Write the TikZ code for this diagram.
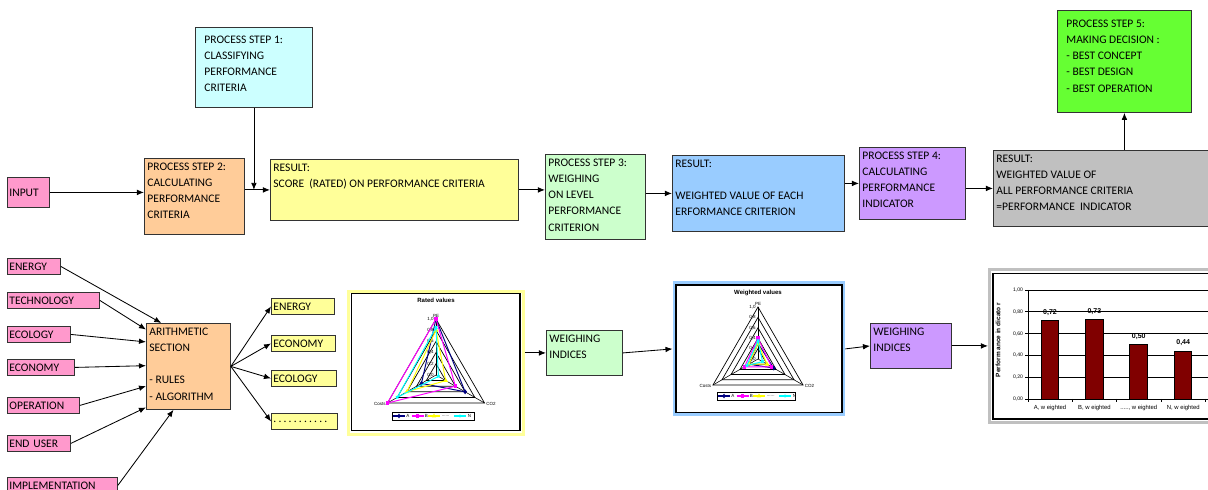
\documentclass[tikz,border=0pt]{standalone}
\usepackage{fontspec}
\setmainfont{Carlito}
\newfontfamily\chartfont{Liberation Sans}
\usetikzlibrary{arrows.meta,positioning,plotmarks}

\definecolor{inputpink}{HTML}{FF99CC}
\definecolor{steporange}{HTML}{FFCC99}
\definecolor{stepcyan}{HTML}{CCFFFF}
\definecolor{resultyellow}{HTML}{FFFF99}
\definecolor{steplgreen}{HTML}{CCFFCC}
\definecolor{resultblue}{HTML}{99CCFF}
\definecolor{steppurple}{HTML}{CC99FF}
\definecolor{resultgray}{HTML}{C0C0C0}
\definecolor{decisiongreen}{HTML}{66FF33}
\definecolor{barred}{HTML}{800000}
\definecolor{serA}{HTML}{000080}
\definecolor{serB}{HTML}{FF00FF}
\definecolor{serC}{HTML}{FFFF00}
\definecolor{serN}{HTML}{00FFFF}

\newdimen\pxu
\pxu=0.025cm
\newcommand{\boxfont}{\fontsize{8.2}{11.4}\selectfont}
\newcommand{\boxtext}[3]{\parbox[c][#2\pxu][t]{#1\pxu}{\raggedright #3}}
\newcommand{\legdots}{......}
\newcommand{\catdots}{.....}
\newcommand{\dt}{.\kern1.56pt}
\newcommand{\dotrow}{\dt\dt\dt\dt\dt\dt\dt\dt\dt\dt.}
\newcommand{\radarlegend}[2]{%
  \draw[line width=0.6pt, fill=white] (0,0) rectangle (#2,8);
  \foreach \c/\m/\x in {serA/diamond*/1, serB/square*/19.5, serC/triangle*/36, serN/x/62}
    \draw[\c, line width=0.8pt, mark=\m, mark size=1pt, mark indices={2}] plot coordinates {(\x,4) ({\x+6},4) ({\x+12},4)};
  \foreach \x/\t/\n in {13.5/A/a, 32/B/b, 49/\legdots/c, 75/N/n}
    \node[chartlbl, anchor=west] (#1\n) at (\x,4) {\t};
}

\begin{document}
\begin{tikzpicture}[x=0.025cm, y=-0.025cm,
  box/.style={draw=black!80, line width=0.6pt, anchor=north west, inner xsep=3\pxu, inner ysep=5\pxu, font=\boxfont},
  tag/.style={draw=black!80, line width=0.6pt, anchor=north west, inner xsep=2\pxu, inner ysep=0pt, minimum height=16\pxu, align=left, font=\boxfont},
  arr/.style={-{Latex[length=5pt,width=4pt]}, line width=0.6pt},
  frame/.style={anchor=north west, line width=2pt, inner sep=0pt, fill=white},
  chartlbl/.style={font=\chartfont\fontsize{3.2}{3.8}\selectfont, inner sep=0.5pt},
  charttitle/.style={font=\chartfont\bfseries\fontsize{4.3}{5}\selectfont, inner sep=0pt}]

\useasboundingbox (0,0) rectangle (1208,490);

% process chain
\node[tag, fill=inputpink, minimum height=30\pxu, text width=38\pxu] (input) at (7,177) {INPUT};
\node[box, fill=steporange] (ps2) at (144,158) {\boxtext{94}{66}{PROCESS STEP 2:\\CALCULATING\\PERFORMANCE\\CRITERIA}};
\node[box, fill=stepcyan, inner xsep=9\pxu, inner ysep=9\pxu] (ps1) at (195,27) {\boxtext{99}{62}{PROCESS STEP 1:\\CLASSIFYING\\PERFORMANCE\\CRITERIA}};
\node[box, fill=resultyellow] (res1) at (270,159) {\boxtext{242}{51}{RESULT:\\SCORE\ \ (RATED) ON PERFORMANCE CRITERIA}};
\node[box, fill=steplgreen] (ps3) at (545,154) {\boxtext{94}{75}{PROCESS STEP 3:\\WEIGHING\\ON LEVEL\\PERFORMANCE\\CRITERION}};
\node[box, fill=resultblue] (res2) at (672,155) {\boxtext{166}{66}{RESULT:\\[\baselineskip]WEIGHTED VALUE OF EACH\\ERFORMANCE CRITERION}};
\node[box, fill=steppurple] (ps4) at (859,147) {\boxtext{100}{62}{PROCESS STEP 4:\\CALCULATING\\PERFORMANCE\\INDICATOR}};
\node[box, fill=resultgray] (res3) at (993,150) {\boxtext{224}{66}{RESULT:\\WEIGHTED VALUE OF\\ALL PERFORMANCE CRITERIA\\=PERFORMANCE\ \ INDICATOR}};
\node[box, fill=decisiongreen, inner xsep=9\pxu, inner ysep=10\pxu] (ps5) at (1057,10) {\boxtext{116}{82}{PROCESS STEP 5:\\MAKING DECISION :\\- BEST CONCEPT\\- BEST DESIGN\\- BEST OPERATION}};

\draw[arr] (input.east) -- (input.east -| ps2.west);
\draw[arr] (ps2.east |- res1.west) -- (res1.west);
\draw[arr] (ps1.south) -- (ps1.south |- res1.west);
\draw[arr] (res1.east) -- (res1.east -| ps3.west);
\draw[arr] (ps3.east |- res2.west) -- (res2.west);
\draw[arr] (res2.east |- ps4.west) -- (ps4.west);
\draw[arr] (ps4.east |- res3.west) -- (res3.west);
\draw[arr] (res3.north -| ps5.south) -- (ps5.south);

% inputs and arithmetic section
\node[tag, fill=inputpink, text width=49\pxu] (in1) at (7,258) {ENERGY};
\node[tag, fill=inputpink, text width=88\pxu] (in2) at (7,292) {TECHNOLOGY};
\node[tag, fill=inputpink, text width=59\pxu] (in3) at (7,326) {ECOLOGY};
\node[tag, fill=inputpink, text width=63\pxu] (in4) at (7,359) {ECONOMY};
\node[tag, fill=inputpink, text width=68\pxu] (in5) at (7,397) {OPERATION};
\node[tag, fill=inputpink, text width=59\pxu] (in6) at (7,435) {END USER};
\node[tag, fill=inputpink, text width=106\pxu] (in7) at (7,477) {IMPLEMENTATION};
\node[box, fill=steporange] (arith) at (146,323) {\boxtext{78}{76}{ARITHMETIC\\SECTION\\[\baselineskip]- RULES\\- ALGORITHM}};

\draw[arr] (in1.east) -- (arith.122);
\draw[arr] (in2.east) -- (arith.139);
\draw[arr] (in3.east) -- (arith.150);
\draw[arr] (in4.east) -- (arith.179);
\draw[arr] (in5.east) -- (arith.205);
\draw[arr] (in6.east) -- (arith.224);
\draw[arr] (in7.east) -- (arith.251);

\node[tag, fill=resultyellow, text width=59\pxu] (out1) at (271,298) {ENERGY};
\node[tag, fill=resultyellow, text width=60\pxu] (out2) at (271,335) {ECONOMY};
\node[tag, fill=resultyellow, text width=61\pxu] (out3) at (271,370) {ECOLOGY};
\node[tag, fill=resultyellow, text width=62\pxu] (out4) at (271,413) {\dotrow};
\foreach \o in {out1,out2,out3,out4}
  \draw[arr] (arith.east) -- (\o.west);

% charts and weighing
\node[frame, draw=resultyellow, minimum width=175\pxu, minimum height=143\pxu] (rated) at (347,290) {};
\draw[line width=1pt] (351.5,293.5) rectangle (520,430.5);
\node[box, fill=steplgreen] (wi1) at (546,330) {\boxtext{70}{35}{WEIGHING\\INDICES}};
\node[frame, draw=resultblue, minimum width=170\pxu, minimum height=132\pxu] (weighted) at (672.5,281.5) {};
\draw[line width=1pt] (676,285) rectangle (842,412.5);
\node[box, fill=steppurple] (wi2) at (870,323) {\boxtext{75}{35}{WEIGHING\\INDICES}};
\node[frame, draw=resultgray, minimum width=240\pxu, minimum height=153\pxu] (bars) at (988,268.5) {};
\draw[line width=1pt] (993,273.5) rectangle (1230,419);

\draw[arr] (rated.east |- wi1.west) -- (wi1.west);
\draw[arr] (wi1.east) -- (weighted.west);
\draw[arr] (weighted.east) -- (wi2.west);
\draw[arr] (wi2.east) -- (wi2.east -| bars.west);

% rated values
\node[charttitle] (ratedtitle) at (436,300) {Rated values};
\begin{scope}[shift={(436,375)}]
  \foreach \r in {0.2,0.4,...,1.0}
    \draw[line width=0.5pt] (270:{56*\r}) -- (30:{56*\r}) -- (150:{56*\r}) -- cycle;
  \foreach \a in {270,30,150}
    \draw[line width=0.4pt] (0,0) -- (\a:56);
  \foreach \t in {0,2,4,6,8}
    \node[chartlbl, anchor=east] (ratedtick\t) at (-1.5,{-5.6*\t}) {0,\t};
  \node[chartlbl, anchor=east] (ratedtick10) at (-1.5,-56) {1,0};
  \node[chartlbl, anchor=south] (ratedPE) at (270:57) {PE};
  \node[chartlbl, anchor=east] (ratedCosts) at (150:57) {Costs};
  \node[chartlbl, anchor=west] (ratedCO2) at (30:57) {CO2};
  \draw[serA, line width=0.7pt, mark=diamond*, mark size=1.2pt] plot coordinates {(270:56) (30:33.6) (150:16.8) (270:56)};
  \draw[serB, line width=0.7pt, mark=square*, mark size=1pt] plot coordinates {(270:56) (30:22.4) (150:56) (270:56)};
  \draw[serC, line width=0.7pt, mark=triangle*, mark size=1.2pt] plot coordinates {(270:44.8) (30:11.2) (150:33.6) (270:44.8)};
  \draw[serN, line width=0.7pt, mark=x, mark size=1.2pt] plot coordinates {(270:47.6) (30:2.8) (150:44.8) (270:47.6)};
\end{scope}
\begin{scope}[shift={(392,412)}]
  \radarlegend{ratedleg}{82}
\end{scope}

% weighted values
\node[charttitle] (weightedtitle) at (758,293) {Weighted values};
\begin{scope}[shift={(758,359)}]
  \foreach \r in {0.2,0.4,...,1.0}
    \draw[line width=0.5pt] (270:{52*\r}) -- (30:{52*\r}) -- (150:{52*\r}) -- cycle;
  \foreach \a in {270,30,150}
    \draw[line width=0.4pt] (0,0) -- (\a:52);
  \foreach \t in {0,2,4,6,8}
    \node[chartlbl, anchor=east] (weightedtick\t) at (-1.5,{-5.2*\t}) {0,\t};
  \node[chartlbl, anchor=east] (weightedtick10) at (-1.5,-52) {1,0};
  \node[chartlbl, anchor=south] (weightedPE) at (270:53) {PE};
  \node[chartlbl, anchor=east] (weightedCosts) at (150:53) {Costs};
  \node[chartlbl, anchor=west] (weightedCO2) at (30:53) {CO2};
  \draw[serA, line width=0.7pt, mark=diamond*, mark size=1.2pt] plot coordinates {(270:15.6) (30:18.2) (150:10.4) (270:15.6)};
  \draw[serB, line width=0.7pt, mark=square*, mark size=1pt] plot coordinates {(270:20.8) (30:15.6) (150:15.6) (270:20.8)};
  \draw[serC, line width=0.7pt, mark=triangle*, mark size=1.2pt] plot coordinates {(270:15.6) (30:10.4) (150:10.4) (270:15.6)};
  \draw[serN, line width=0.7pt, mark=x, mark size=1.2pt] plot coordinates {(270:18.2) (30:5.2) (150:13) (270:18.2)};
\end{scope}
\begin{scope}[shift={(717,392)}]
  \radarlegend{weightedleg}{78}
\end{scope}

% performance indicator
\foreach \v in {0.2,0.4,0.6,0.8,1.0}
  \draw[line width=0.5pt] (1028,{399-109*\v}) -- (1215,{399-109*\v});
\draw[line width=0.5pt] (1028,290) -- (1028,399) -- (1215,399);
\foreach \t in {0,2,4,6,8,10}
  \draw[line width=0.5pt] (1025,{399-10.9*\t}) -- (1028,{399-10.9*\t});
\foreach \t in {0,2,4,6,8}
  \node[chartlbl, font=\chartfont\fontsize{3.6}{4}\selectfont, anchor=east] (ytick\t) at (1024,{399-10.9*\t}) {0,\t0};
\node[chartlbl, font=\chartfont\fontsize{3.6}{4}\selectfont, anchor=east] (ytick10) at (1024,290) {1,00};
\foreach \i in {0,...,4}
  \draw[line width=0.5pt] ({1028+44.4*\i},399) -- ({1028+44.4*\i},402);
\foreach \i/\v/\t in {0/72/A, 1/73/B, 2/50/\catdots, 3/44/N} {
  \draw[fill=barred, line width=0.5pt] ({1041+44.4*\i},399) rectangle ({1058.5+44.4*\i},{399-1.09*\v});
  \node[chartlbl, font=\chartfont\bfseries\fontsize{5}{6}\selectfont] (val\i) at ({1050+44.4*\i},{391-1.09*\v}) {0,\v};
  \node[chartlbl, font=\chartfont\fontsize{4.2}{5}\selectfont] (cat\i) at ({1050+44.4*\i},408) {\t, w eighted};
}
\node[chartlbl, font=\chartfont\bfseries\fontsize{4.6}{5}\selectfont, rotate=90] (ytitle) at (998,340) {Perform ance in dicato r};
\end{tikzpicture}
\end{document}
